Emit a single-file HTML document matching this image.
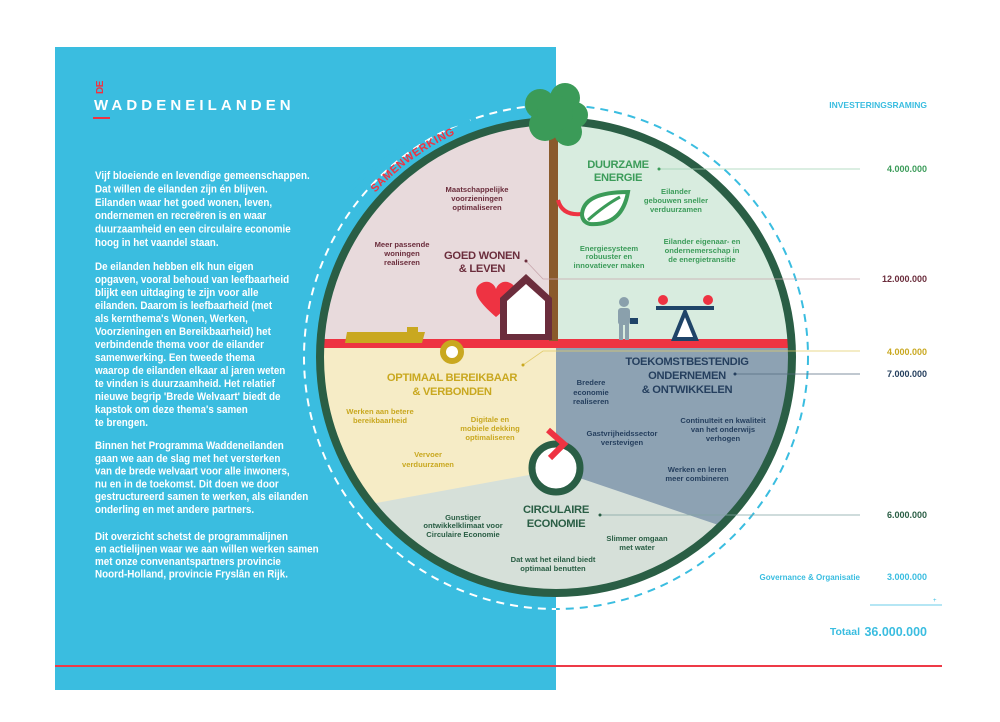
<!DOCTYPE html>
<html><head><meta charset="utf-8"><style>
html,body{margin:0;padding:0;background:#fff;}
svg{display:block;font-family:"Liberation Sans",sans-serif;}
.lt{fill:#fff;font-weight:bold;font-size:11.2px;}
.s{font-size:7.6px;font-weight:bold;text-anchor:middle;}
.h{font-size:11.2px;font-weight:bold;text-anchor:middle;letter-spacing:-0.3px;}
.n{font-size:9px;font-weight:bold;text-anchor:end;}
</style></head><body>
<svg width="1000" height="722" viewBox="0 0 1000 722">
<defs>
<clipPath id="cc"><circle cx="556" cy="357" r="234"/></clipPath>
<clipPath id="lh"><rect x="0" y="0" width="556" height="722"/></clipPath>
<clipPath id="rh"><rect x="556" y="0" width="444" height="722"/></clipPath>
<path id="arc" d="M 354 220 A 244 244 0 0 1 488 122"/>
</defs>
<rect x="0" y="0" width="1000" height="722" fill="#fff"/>
<rect x="55" y="47" width="501" height="643" fill="#3abde0"/>
<line x1="55" y1="666" x2="942" y2="666" stroke="#ee3a47" stroke-width="2"/>

<!-- logo -->
<text transform="translate(103,94) rotate(-90)" font-size="10" font-weight="bold" fill="#ee3342" letter-spacing="-0.5">DE</text>
<text x="94" y="110" font-size="15" font-weight="bold" fill="#fff" letter-spacing="4.1">WADDENEILANDEN</text>
<rect x="93" y="117" width="17" height="2" fill="#ee3342"/>

<!-- left text -->
<g class="lt" transform="translate(95,0) scale(0.88,1)">
<text x="0" y="179">Vijf bloeiende en levendige gemeenschappen.</text>
<text x="0" y="192.4">Dat willen de eilanden zijn én blijven.</text>
<text x="0" y="205.8">Eilanden waar het goed wonen, leven,</text>
<text x="0" y="219.2">ondernemen en recreëren is en waar</text>
<text x="0" y="232.6">duurzaamheid en een circulaire economie</text>
<text x="0" y="246">hoog in het vaandel staan.</text>
<text x="0" y="270">De eilanden hebben elk hun eigen</text>
<text x="0" y="283">opgaven, vooral behoud van leefbaarheid</text>
<text x="0" y="296">blijkt een uitdaging te zijn voor alle</text>
<text x="0" y="309">eilanden. Daarom is leefbaarheid (met</text>
<text x="0" y="322">als kernthema's Wonen, Werken,</text>
<text x="0" y="335">Voorzieningen en Bereikbaarheid) het</text>
<text x="0" y="348">verbindende thema voor de eilander</text>
<text x="0" y="361">samenwerking. Een tweede thema</text>
<text x="0" y="374">waarop de eilanden elkaar al jaren weten</text>
<text x="0" y="387">te vinden is duurzaamheid. Het relatief</text>
<text x="0" y="400">nieuwe begrip 'Brede Welvaart' biedt de</text>
<text x="0" y="413">kapstok om deze thema's samen</text>
<text x="0" y="426">te brengen.</text>
<text x="0" y="449">Binnen het Programma Waddeneilanden</text>
<text x="0" y="461.8">gaan we aan de slag met het versterken</text>
<text x="0" y="474.6">van de brede welvaart voor alle inwoners,</text>
<text x="0" y="487.4">nu en in de toekomst. Dit doen we door</text>
<text x="0" y="500.2">gestructureerd samen te werken, als eilanden</text>
<text x="0" y="513">onderling en met andere partners.</text>
<text x="0" y="540">Dit overzicht schetst de programmalijnen</text>
<text x="0" y="552.5">en actielijnen waar we aan willen werken samen</text>
<text x="0" y="565">met onze convenantspartners provincie</text>
<text x="0" y="577.5">Noord-Holland, provincie Fryslân en Rijk.</text>
</g>

<!-- dashed circle -->
<circle cx="556" cy="357" r="252" fill="none" stroke="#fff" stroke-width="2" stroke-dasharray="8 6" clip-path="url(#lh)"/>
<circle cx="556" cy="357" r="252" fill="none" stroke="#3abde0" stroke-width="2" stroke-dasharray="8 6" clip-path="url(#rh)"/>
<path d="M 350 190 A 252 252 0 0 1 470 120" fill="none" stroke="#3abde0" stroke-width="4"/>

<!-- circle sections -->
<g clip-path="url(#cc)">
<rect x="300" y="100" width="520" height="520" fill="#d6e0d9"/>
<rect x="300" y="100" width="256" height="244" fill="#e8dadc"/>
<rect x="556" y="100" width="264" height="244" fill="#d8ecdf"/>
<polygon points="300,347 556,347 556,470 300,517" fill="#f6ecc6"/>
<polygon points="556,347 810,347 810,556 556,470" fill="#8da2b3"/>
<rect x="300" y="339" width="520" height="9" fill="#ee3342"/>
</g>
<circle cx="556" cy="357" r="236" fill="none" stroke="#2a5e45" stroke-width="8"/>

<!-- samenwerking -->
<text font-size="11" font-weight="bold" fill="#ee3342" letter-spacing="0.6"><textPath href="#arc" startOffset="50%" text-anchor="middle">SAMENWERKING</textPath></text>

<!-- tree -->
<rect x="549" y="130" width="9" height="211" fill="#8a5a2c"/>
<g fill="#3b9b58">
<circle cx="540" cy="104" r="15"/><circle cx="565" cy="98" r="15"/><circle cx="575" cy="115" r="13"/>
<circle cx="545" cy="125" r="16"/><circle cx="568" cy="132" r="14"/><circle cx="555" cy="113" r="18"/>
</g>
<!-- leaf -->
<path d="M558 200 Q562 216 582 214" fill="none" stroke="#ee3342" stroke-width="4"/>
<path d="M582 214 Q584 192 628 192 Q622 226 590 224 Q582 222 582 214 Z" fill="#fff" stroke="#3b9b58" stroke-width="4"/>
<path d="M588 220 Q605 205 620 197" fill="none" stroke="#3b9b58" stroke-width="3"/>
<!-- heart & house -->
<path d="M496 317 C476 300 472 290 480 284 C487 279 494 283 496 289 C498 283 505 279 512 284 C520 290 516 300 496 317 Z" fill="#ee3342"/>
<polygon points="500,340 500,298 526,274 552,298 552,340" fill="#6b2d3c"/>
<polygon points="507,334 507,301 526,284 545,301 545,334" fill="#fff"/>
<!-- boat -->
<path d="M347 332 L407 332 L407 327 L418 327 L418 332 L425 332 L422 343 L345 343 Z" fill="#c9a820"/>
<circle cx="452" cy="352" r="9" fill="#fff" stroke="#c9a820" stroke-width="6"/>
<!-- person -->
<g fill="#8aa0ac"><circle cx="624" cy="302" r="5"/><rect x="618" y="308" width="12" height="17" rx="3"/><rect x="619" y="324" width="4" height="16"/><rect x="625" y="324" width="4" height="16"/></g>
<rect x="630" y="318" width="8" height="6" fill="#1f4468"/>
<!-- seesaw -->
<circle cx="663" cy="300" r="5" fill="#ee3342"/><circle cx="708" cy="300" r="5" fill="#ee3342"/>
<rect x="656" y="306" width="58" height="4" fill="#1f4468"/>
<polygon points="685,312 674,339 696,339" fill="#fff" stroke="#1f4468" stroke-width="4"/>
<!-- ring -->
<circle cx="556" cy="468" r="24" fill="#fff" stroke="#2a5e45" stroke-width="7"/>
<polyline points="548,430 564,444 550,458" fill="none" stroke="#ee3342" stroke-width="6"/>

<!-- connectors -->
<g stroke-width="0.8" fill="none">
<line x1="659" y1="169" x2="860" y2="169" stroke="#9fd1b0"/>
<polyline points="526,261 543,279 860,279" stroke="#c7a6ad"/>
<polyline points="523,365 543,351 860,351" stroke="#e2cb6a"/>
<line x1="735" y1="374" x2="860" y2="374" stroke="#566b80"/>
<line x1="600" y1="515" x2="860" y2="515" stroke="#7fa3a0"/>
<line x1="870" y1="605" x2="942" y2="605" stroke="#3abde0"/>
</g>
<g><circle cx="659" cy="169" r="1.5" fill="#3c9c5a"/><circle cx="526" cy="261" r="1.5" fill="#6b2d3c"/><circle cx="523" cy="365" r="1.5" fill="#c9a820"/><circle cx="735" cy="374" r="1.5" fill="#253f5e"/><circle cx="600" cy="515" r="1.5" fill="#2a5e45"/></g>

<!-- section labels -->
<g fill="#3c9c5a">
<text class="h" x="618" y="168">DUURZAME</text><text class="h" x="618" y="181">ENERGIE</text>
<text class="s" x="676" y="194">Eilander</text><text class="s" x="676" y="203">gebouwen sneller</text><text class="s" x="676" y="212">verduurzamen</text>
<text class="s" x="609" y="251">Energiesysteem</text><text class="s" x="609" y="259">robuuster en</text><text class="s" x="609" y="268">innovatiever maken</text>
<text class="s" x="702" y="244">Eilander eigenaar- en</text><text class="s" x="702" y="253">ondernemerschap in</text><text class="s" x="702" y="262">de energietransitie</text>
</g>
<g fill="#6b2d3c">
<text class="s" x="477" y="192">Maatschappelijke</text><text class="s" x="477" y="201">voorzieningen</text><text class="s" x="477" y="210">optimaliseren</text>
<text class="s" x="402" y="247">Meer passende</text><text class="s" x="402" y="256">woningen</text><text class="s" x="402" y="265">realiseren</text>
<text class="h" x="482" y="259">GOED WONEN</text><text class="h" x="482" y="272">&amp; LEVEN</text>
</g>
<g fill="#c9a820">
<text class="h" x="452" y="381">OPTIMAAL BEREIKBAAR</text><text class="h" x="452" y="395">&amp; VERBONDEN</text>
<text class="s" x="380" y="414">Werken aan betere</text><text class="s" x="380" y="423">bereikbaarheid</text>
<text class="s" x="490" y="422">Digitale en</text><text class="s" x="490" y="431">mobiele dekking</text><text class="s" x="490" y="440">optimaliseren</text>
<text class="s" x="428" y="457">Vervoer</text><text class="s" x="428" y="467">verduurzamen</text>
</g>
<g fill="#253f5e">
<text class="h" x="687" y="365">TOEKOMSTBESTENDIG</text><text class="h" x="687" y="379">ONDERNEMEN</text><text class="h" x="687" y="393">&amp; ONTWIKKELEN</text>
<text class="s" x="591" y="385">Bredere</text><text class="s" x="591" y="395">economie</text><text class="s" x="591" y="404">realiseren</text>
<text class="s" x="622" y="436">Gastvrijheidssector</text><text class="s" x="622" y="445">verstevigen</text>
<text class="s" x="723" y="423">Continuïteit en kwaliteit</text><text class="s" x="723" y="432">van het onderwijs</text><text class="s" x="723" y="441">verhogen</text>
<text class="s" x="697" y="472">Werken en leren</text><text class="s" x="697" y="481">meer combineren</text>
</g>
<g fill="#2a5e45">
<text class="h" x="556" y="513">CIRCULAIRE</text><text class="h" x="556" y="527">ECONOMIE</text>
<text class="s" x="463" y="520">Gunstiger</text><text class="s" x="463" y="528">ontwikkelklimaat voor</text><text class="s" x="463" y="537">Circulaire Economie</text>
<text class="s" x="637" y="541">Slimmer omgaan</text><text class="s" x="637" y="550">met water</text>
<text class="s" x="553" y="562">Dat wat het eiland biedt</text><text class="s" x="553" y="571">optimaal benutten</text>
</g>

<!-- right column -->
<text class="n" x="927" y="108" fill="#3abde0" style="font-size:8.5px">INVESTERINGSRAMING</text>
<text class="n" x="927" y="172" fill="#3c9c5a">4.000.000</text>
<text class="n" x="927" y="282" fill="#6b2d3c">12.000.000</text>
<text class="n" x="927" y="355" fill="#c9a820">4.000.000</text>
<text class="n" x="927" y="377" fill="#253f5e">7.000.000</text>
<text class="n" x="927" y="518" fill="#2a5e45">6.000.000</text>
<text class="n" x="860" y="580" fill="#3abde0" style="font-size:8px">Governance &amp; Organisatie</text>
<text class="n" x="927" y="580" fill="#3abde0">3.000.000</text>
<text x="933" y="602" fill="#3abde0" font-size="6">+</text>
<text class="n" x="860" y="635" fill="#3abde0" style="font-size:10.5px">Totaal</text>
<text class="n" x="927" y="636" fill="#3abde0" style="font-size:12.5px">36.000.000</text>
</svg>
</body></html>
